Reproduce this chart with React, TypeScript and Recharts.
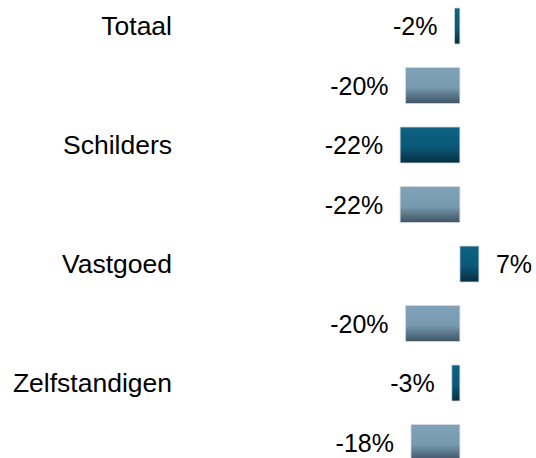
import React from 'react';
import { BarChart, Bar, XAxis, YAxis, Cell, LabelList } from 'recharts';

const categories = ['Totaal', 'Schilders', 'Vastgoed', 'Zelfstandigen'];
const seriesDark = [-2, -22, 7, -3];
const seriesLight = [-20, -22, -20, -18];

const rows = categories.flatMap((c, i) => [
  { key: c, label: c, value: seriesDark[i], kind: 'dark' },
  { key: c + '__2', label: '', value: seriesLight[i], kind: 'light' },
]);

const FONT = 'Liberation Sans, Arial, Helvetica, sans-serif';

const CategoryTick = (props: any) => {
  const { x, y, payload } = props;
  const row = rows.find((r) => r.key === payload.value);
  const label = row ? row.label : '';
  return (
    <text x={x} y={y} dy={9} textAnchor="end" fontSize={26.5} fontFamily={FONT} fill="#000">
      {label}
    </text>
  );
};

const ValueLabel = (props: any) => {
  const { x, y, width, height, value } = props;
  const left = Math.min(x, x + width);
  const right = Math.max(x, x + width);
  const neg = value < 0;
  return (
    <text
      x={neg ? left - 17 : right + 17}
      y={y + height / 2}
      dy={9}
      textAnchor={neg ? 'end' : 'start'}
      fontSize={25}
      fontFamily={FONT}
      fill="#000"
    >
      {value}%
    </text>
  );
};

export default function App() {
  return (
    <div style={{ position: 'absolute', top: 0, left: 0, width: 536, height: 458, overflow: 'hidden', background: '#fff' }}>
      <div style={{ marginTop: -4 }}>
        <BarChart
          width={536}
          height={476}
          data={rows}
          layout="vertical"
          margin={{ top: 0, right: 0, bottom: 0, left: 0 }}
        >
          <defs>
            <linearGradient id="gradDark" x1="0" y1="0" x2="0" y2="1">
              <stop offset="0%" stopColor="#0d6282" />
              <stop offset="55%" stopColor="#0b5979" />
              <stop offset="100%" stopColor="#082e42" />
            </linearGradient>
            <linearGradient id="gradLight" x1="0" y1="0" x2="0" y2="1">
              <stop offset="0%" stopColor="#80a2b8" />
              <stop offset="55%" stopColor="#789aaf" />
              <stop offset="100%" stopColor="#3f5465" />
            </linearGradient>
          </defs>
          <XAxis type="number" hide domain={[-103, 28]} allowDataOverflow />
          <YAxis
            type="category"
            dataKey="key"
            width={180}
            axisLine={false}
            tickLine={false}
            tickSize={0}
            tickMargin={8}
            interval={0}
            tick={<CategoryTick />}
          />
          <Bar dataKey="value" barSize={36} isAnimationActive={false}>
            {rows.map((r, i) => (
              <Cell key={i} fill={r.kind === 'dark' ? 'url(#gradDark)' : 'url(#gradLight)'} stroke="#d5dbe0" strokeWidth={0.8} />
            ))}
            <LabelList dataKey="value" content={<ValueLabel />} />
          </Bar>
        </BarChart>
      </div>
    </div>
  );
}
